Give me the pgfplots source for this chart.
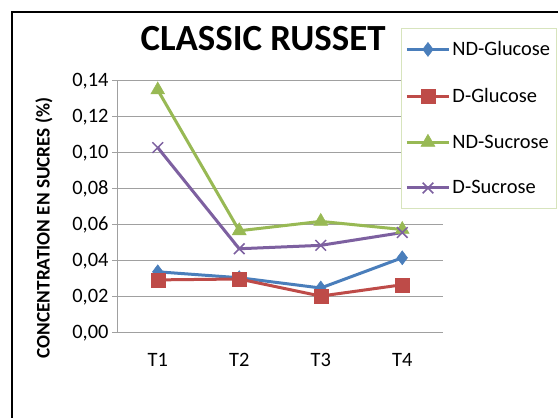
\documentclass[border=0pt]{standalone}
\usepackage{pgfplots}
\pgfplotsset{compat=1.18}
\usepackage{fontspec}
\setmainfont{Carlito}
\definecolor{cblue}{HTML}{4A7EBB}
\definecolor{cred}{HTML}{BE4B48}
\definecolor{cgreen}{HTML}{98B954}
\definecolor{cpurple}{HTML}{7D60A0}
\definecolor{cgrid}{HTML}{A0A0A0}
\definecolor{clegend}{HTML}{D7E4BD}
\begin{document}
\begin{tikzpicture}
\useasboundingbox (0,0) rectangle (558bp,418bp);
\begin{scope}
\clip (0,0) rectangle (558bp,418bp);
\fill[white] (0,0) rectangle (558bp,418bp);
\draw[line width=2bp] (12bp,-20bp) -- (12bp,406bp) -- (600bp,406bp);
\end{scope}
\node[font=\fontsize{37}{42}\selectfont\bfseries] at (263bp,379bp) {CLASSIC RUSSET};
\node[font=\fontsize{19.3}{22}\selectfont\bfseries, rotate=90] at (44bp,190bp) {CONCENTRATION EN SUCRES (\%)};
\begin{axis}[
  at={(117bp,85bp)}, anchor=south west,
  scale only axis, width=326bp, height=252bp,
  xmin=-0.5, xmax=3.5, ymin=0, ymax=0.14,
  xtick={0,1,2,3}, xticklabels={T1,T2,T3,T4},
  extra x ticks={-0.5,0.5,1.5,2.5,3.5}, extra x tick labels={},
  extra x tick style={major tick length=6bp, tick style={cgrid, line width=1bp}, tick align=outside},
  x tick style={draw=none},
  ytick={0,0.02,0.04,0.06,0.08,0.10,0.12,0.14},
  y tick style={cgrid, line width=1bp}, major tick length=5bp, tick align=outside,
  ymajorgrids, grid style={cgrid, line width=1bp},
  axis x line*=bottom, axis y line*=left,
  axis line style={cgrid, line width=1bp, -},
  yticklabel style={/pgf/number format/.cd, use comma, fixed, fixed zerofill, precision=2, assume math mode=true},
  ticklabel style={font=\fontsize{20.5}{24}\selectfont},
  xticklabel style={yshift=-12bp},
  every axis plot/.append style={line width=3bp},
  legend style={at={(rel axis cs:0.871,1.21)}, anchor=north west, draw=clegend, line width=1bp,
    fill=white, font=\fontsize{20.5}{24}\selectfont, row sep=27bp, inner xsep=4bp, inner ysep=11bp,
    /tikz/every even column/.append style={column sep=0bp}},
  legend cell align=left,
  legend image code/.code={\draw[mark repeat=2,mark phase=2] plot coordinates {(0bp,0bp) (21bp,0bp) (42bp,0bp)};},
  clip=false,
]
\addplot[cblue, mark=diamond*, mark size=7bp, mark options={solid, line width=0.5bp}] coordinates {(0,0.034) (1,0.0307) (2,0.025) (3,0.0418)};
\addlegendentry{ND-Glucose}
\addplot[cred, mark=square*, mark size=7bp, mark options={solid, line width=0.5bp}] coordinates {(0,0.0295) (1,0.030) (2,0.0205) (3,0.0268)};
\addlegendentry{D-Glucose}
\addplot[cgreen, mark=triangle*, mark size=8bp, mark options={solid, line width=0.5bp}] coordinates {(0,0.135) (1,0.0568) (2,0.062) (3,0.0575)};
\addlegendentry{ND-Sucrose}
\addplot[cpurple, mark=x, mark size=7.5bp, mark options={solid, line width=1.5bp}] coordinates {(0,0.103) (1,0.0468) (2,0.0487) (3,0.0558)};
\addlegendentry{D-Sucrose}
\end{axis}
\end{tikzpicture}
\end{document}
